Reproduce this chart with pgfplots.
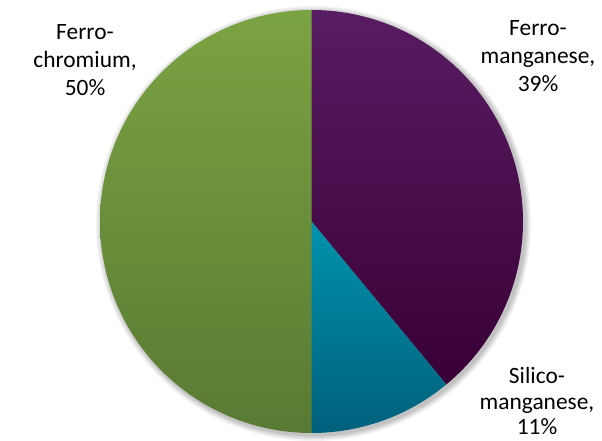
\documentclass[border=0pt]{standalone}
\usepackage{pgfplots}
\pgfplotsset{compat=1.18}
\usepackage{pgfplotstable}
\usepackage{fontspec}
\setmainfont{Carlito}
\definecolor{fmTop}{HTML}{581C62}
\definecolor{fmBot}{HTML}{380036}
\definecolor{smTop}{HTML}{0092AC}
\definecolor{smBot}{HTML}{00607C}
\definecolor{fcTop}{HTML}{7AA342}
\definecolor{fcBot}{HTML}{587A33}
% shares in percent
\pgfplotstableread{
name value
Ferromanganese 39
Silicomanganese 11
Ferrochromium 50
}\piedata
\pgfplotstablegetelem{0}{value}\of\piedata \edef\va{\pgfplotsretval}
\pgfplotstablegetelem{1}{value}\of\piedata \edef\vb{\pgfplotsretval}
\pgfplotstablegetelem{2}{value}\of\piedata \edef\vc{\pgfplotsretval}
\pgfmathsetmacro{\aA}{90-3.6*\va}
\pgfmathsetmacro{\aB}{\aA-3.6*\vb}
\pgfmathsetmacro{\aC}{\aB-3.6*\vc}
\begin{document}
\begin{tikzpicture}
\begin{axis}[
  scale only axis, width=602bp, height=438bp,
  xmin=0, xmax=602, ymin=0, ymax=438,
  hide axis, clip=false]
\path (axis cs:0,0) rectangle (axis cs:602,438);
% soft shadow
\fill[black,opacity=0.05] (axis cs:313.5,214.5) circle[radius=217.5bp];
\fill[black,opacity=0.06] (axis cs:313.5,214.5) circle[radius=216bp];
\fill[black,opacity=0.07] (axis cs:313.5,214.5) circle[radius=214.5bp];
\fill[black,opacity=0.08] (axis cs:313.5,214.5) circle[radius=213bp];
\shade[top color=fmTop,bottom color=fmBot]
  (axis cs:311.5,216.5) -- ++(90:211.5bp) arc[start angle=90,end angle=\aA,radius=211.5bp] -- cycle;
\shade[top color=smTop,bottom color=smBot]
  (axis cs:311.5,216.5) -- ++(\aA:211.5bp) arc[start angle=\aA,end angle=\aB,radius=211.5bp] -- cycle;
\shade[top color=fcTop,bottom color=fcBot]
  (axis cs:311.5,216.5) -- ++(\aB:211.5bp) arc[start angle=\aB,end angle=\aC,radius=211.5bp] -- cycle;
\node[align=center,font=\fontsize{23.5}{28}\selectfont] at (axis cs:85,378) {Ferro-\\chromium,\\\vc\%};
\node[align=center,font=\fontsize{23.5}{28}\selectfont] at (axis cs:538,382) {Ferro-\\manganese,\\\va\%};
\node[align=center,font=\fontsize{23.5}{26}\selectfont] at (axis cs:537,37) {Silico-\\manganese,\\\vb\%};
\end{axis}
\end{tikzpicture}
\end{document}
